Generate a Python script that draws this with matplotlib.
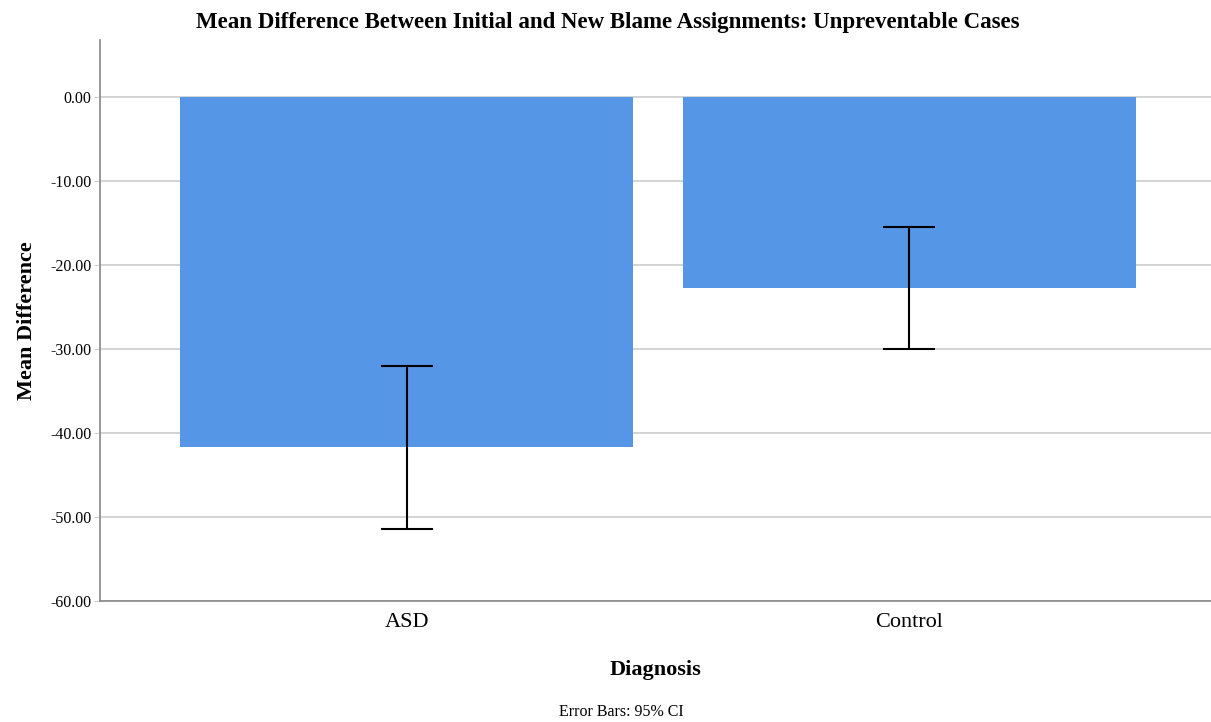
import matplotlib
matplotlib.use("Agg")
import matplotlib.pyplot as plt
import numpy as np

# Data
groups = ["ASD", "Control"]
mean_diff = [-41.7, -22.7]
ci_low = [-51.4, -30.0]
ci_high = [-32.0, -15.5]

plt.rcParams['font.family'] = ['Liberation Serif', 'DejaVu Serif']

fig = plt.figure(figsize=(12.11, 7.22), dpi=100)
ax = fig.add_axes([0.0826, 0.1676, 0.9174, 0.777])

x = np.arange(len(groups))
means = np.asarray(mean_diff)
yerr = np.vstack([means - np.asarray(ci_low), np.asarray(ci_high) - means])

ax.bar(x, means, width=0.9, color="#5596e6", zorder=2)
ax.errorbar(x, means, yerr=yerr, fmt="none", ecolor="black",
            elinewidth=1.5, capsize=19, capthick=1.5, zorder=3)

ax.set_xlim(-0.61, 1.6)
ax.set_ylim(-60, 6.8)
ax.set_yticks(np.arange(-60, 1, 10))
ax.set_yticklabels(["%.2f" % v for v in np.arange(-60, 1, 10)])
ax.set_xticks(x)
ax.set_xticklabels(groups, fontsize=16)

ax.yaxis.grid(True, color="#cccccc", linewidth=1.2, zorder=0)
ax.set_axisbelow(True)
for side in ("top", "right"):
    ax.spines[side].set_visible(False)
for side in ("left", "bottom"):
    ax.spines[side].set_color("#888888")
    ax.spines[side].set_linewidth(1.2)
ax.tick_params(axis="y", length=4, color="#cccccc", labelsize=11.5, pad=2)
ax.tick_params(axis="x", length=0, pad=9)

ax.set_ylabel("Mean Difference", fontsize=16, fontweight="bold", labelpad=10)
ax.set_xlabel("Diagnosis", fontsize=16, fontweight="bold", labelpad=20)
fig.text(0.502, 0.969, "Mean Difference Between Initial and New Blame Assignments: Unpreventable Cases",
         ha="center", va="center", fontsize=16.5, fontweight="bold")
fig.text(0.513, 0.014, "Error Bars: 95% CI", ha="center", va="center", fontsize=11.5)

fig.savefig("out.png", dpi=100)
